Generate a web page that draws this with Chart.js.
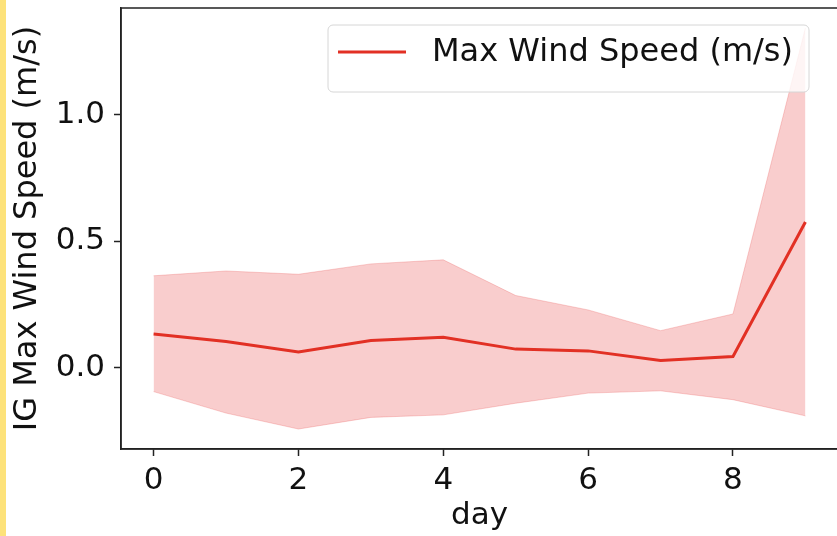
<!DOCTYPE html>
<html>
<head>
<meta charset="utf-8">
<script src="https://cdn.jsdelivr.net/npm/chart.js@4"></script>
<style>
    html, body { margin: 0; padding: 0; background: #fff; overflow: hidden; }
    #wrap { position: relative; width: 837px; height: 536px; overflow: hidden; }
    #strip { position: absolute; left: 0; top: 0; width: 6px; height: 536px; background: #fde27a; }
    #myChart { position: absolute; left: 0; top: 0; }
</style>
</head>
<body>
<div id="wrap">
    <div id="strip"></div>
    <canvas id="myChart" width="842" height="536"></canvas>
</div>
<script>
const days = [0, 1, 2, 3, 4, 5, 6, 7, 8, 9]
const maxWind = [0.134, 0.104, 0.063, 0.108, 0.121, 0.074, 0.067, 0.029, 0.045, 0.577]
const upperBand = [0.364, 0.383, 0.370, 0.411, 0.427, 0.286, 0.229, 0.147, 0.213, 1.344]
const lowerBand = [-0.094, -0.179, -0.242, -0.196, -0.186, -0.140, -0.100, -0.091, -0.126, -0.190]
const xTicks = [0, 2, 4, 6, 8]
const yTicks = [0.0, 0.5, 1.0]
const legendLabel = "Max Wind Speed (m/s)"

const lineColor = "rgb(226, 48, 36)"
const fontFamily = "'DejaVu Sans', sans-serif"

const toPoints = (arr) => days.map((d, i) => ({x: d, y: arr[i]}))

// frame + legend box like matplotlib
const framePlugin = {
    id: "frame",
    afterDraw: (chart) => {
        const {ctx, chartArea: a} = chart
        ctx.save()
        ctx.strokeStyle = "#222"
        ctx.lineWidth = 1.5
        ctx.strokeRect(a.left, a.top, a.right - a.left, a.bottom - a.top)

        // legend
        const bx = 328, by = 25, bw = 481, bh = 67
        ctx.beginPath()
        ctx.roundRect(bx, by, bw, bh, 5)
        ctx.fillStyle = "rgba(255,255,255,0.8)"
        ctx.fill()
        ctx.strokeStyle = "#d6d6d6"
        ctx.lineWidth = 1
        ctx.stroke()

        ctx.beginPath()
        ctx.moveTo(338, 52)
        ctx.lineTo(406, 52)
        ctx.strokeStyle = lineColor
        ctx.lineWidth = 3
        ctx.stroke()

        ctx.fillStyle = "#111"
        ctx.font = "32px " + fontFamily
        ctx.textBaseline = "middle"
        ctx.textAlign = "left"
        ctx.fillText(legendLabel, 432, 53)
        ctx.restore()
    }
}

const ctx1 = document.getElementById("myChart").getContext('2d')

const myChart = new Chart(ctx1, {
    type: "line",
    data: {
        datasets: [{
            label: legendLabel,
            data: toPoints(maxWind),
            borderColor: lineColor,
            borderWidth: 3,
            pointRadius: 0,
            fill: false,
            order: 0
        }, {
            label: "upper",
            data: toPoints(upperBand),
            borderColor: "rgba(230, 70, 70, 0.25)",
            borderWidth: 1,
            backgroundColor: "rgba(232, 60, 60, 0.26)",
            pointRadius: 0,
            fill: "+1",
            order: 1
        }, {
            label: "lower",
            data: toPoints(lowerBand),
            borderColor: "rgba(230, 70, 70, 0.25)",
            borderWidth: 1,
            pointRadius: 0,
            fill: false,
            order: 1
        }]
    },
    options: {
        responsive: false,
        animation: false,
        layout: {padding: {left: 0, top: 8, right: 4, bottom: 0}},
        plugins: {
            legend: {display: false},
            tooltip: {enabled: false}
        },
        scales: {
            x: {
                type: "linear",
                min: -0.45,
                max: 9.45,
                afterBuildTicks: (scale) => { scale.ticks = xTicks.map(v => ({value: v})) },
                afterFit: (scale) => {
                    scale.height = 87
                    scale.paddingLeft = 0
                    scale.paddingRight = 0
                },
                grid: {display: true, drawOnChartArea: false, drawTicks: true, tickLength: 7, color: "#222", tickWidth: 1.5},
                border: {display: true, color: "#222", width: 1.5},
                ticks: {
                    padding: 6,
                    color: "#111",
                    font: {family: fontFamily, size: 31},
                    maxRotation: 0,
                    callback: (v) => String(v)
                },
                title: {
                    display: true,
                    text: "day",
                    color: "#111",
                    font: {family: fontFamily, size: 31},
                    padding: {top: 0, bottom: 1}
                }
            },
            y: {
                type: "linear",
                min: -0.321,
                max: 1.423,
                afterBuildTicks: (scale) => { scale.ticks = yTicks.map(v => ({value: v})) },
                afterFit: (scale) => {
                    scale.width = 121
                    scale.paddingTop = 0
                    scale.paddingBottom = 0
                },
                grid: {display: true, drawOnChartArea: false, drawTicks: true, tickLength: 7, color: "#222", tickWidth: 1.5},
                border: {display: true, color: "#222", width: 1.5},
                ticks: {
                    padding: 9,
                    color: "#111",
                    font: {family: fontFamily, size: 31},
                    callback: (v) => v.toFixed(1)
                },
                title: {
                    display: true,
                    text: "IG Max Wind Speed (m/s)",
                    color: "#111",
                    font: {family: fontFamily, size: 32},
                    padding: {top: 8, bottom: 0}
                }
            }
        }
    },
    plugins: [framePlugin]
})
</script>
</body>
</html>
